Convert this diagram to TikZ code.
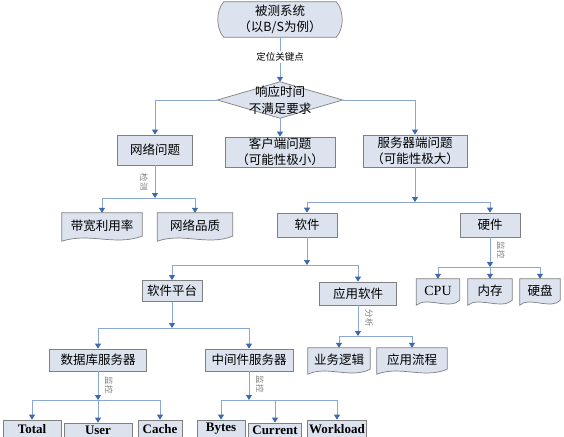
\documentclass[tikz,border=0pt]{standalone}
\usepackage{fontspec}
\setmainfont{Liberation Serif}
\newfontfamily\cjk{Noto Sans CJK SC}
\usetikzlibrary{arrows.meta,calc,backgrounds}
\definecolor{boxfill}{HTML}{DCE3EF}
\definecolor{boxline}{HTML}{808080}
\definecolor{connline}{HTML}{8AA6D2}
\definecolor{tipblue}{HTML}{3C69AF}
\tikzset{
  txt/.style={inner sep=0pt, align=center, font=\cjk\fontsize{12.5}{16.5}\selectfont},
  box/.style={txt, draw=boxline, fill=boxfill, line width=0.7pt},
  latbox/.style={box, font=\rmfamily\bfseries\fontsize{13}{14}\selectfont},
  shapeline/.style={draw=boxline, fill=boxfill, line width=0.7pt},
  conn/.style={draw=connline, line width=0.8pt},
  arr/.style={conn, -{Triangle[length=5pt,width=6pt,color=tipblue]}},
  lab/.style={font=\cjk\fontsize{8.5}{8.5}\selectfont, text=gray, rotate=-90, inner sep=1pt},
}
\newcommand{\docshape}[1]{%
  \path[shapeline] (#1.north west) -- (#1.north east) -- ($(#1.south east)+(0,-2)$)
    .. controls ($(#1.south)+(12,8)$) and ($(#1.south)+(-12,-6)$) .. ($(#1.south west)+(0,3)$) -- cycle;}
\begin{document}
\begin{tikzpicture}[x=1pt,y=-1pt]
\useasboundingbox (0,0) rectangle (564,436);
\clip (0,0) rectangle (564,436);

% nodes
\node[txt, minimum width=112pt, minimum height=35pt] (top) at (280,19.5) {被测系统\\（以B/S为例）};
\node[txt, font=\cjk\fontsize{9.5}{10}\selectfont, fill=white, inner sep=1.5pt] (kp) at (280,57) {定位关键点};
\node[txt, minimum width=125pt, minimum height=36pt] (dia) at (280,100) {响应时间\\不满足要求};

\node[box, minimum width=75pt, minimum height=30pt] (net) at (155,150) {网络问题};
\node[box, minimum width=110pt, minimum height=30pt] (cli) at (280,152) {客户端问题\\（可能性极小）};
\node[box, minimum width=104pt, minimum height=32pt] (srv) at (415,151) {服务器端问题\\（可能性极大）};

\node[txt, minimum width=80pt, minimum height=25pt] (bw) at (102,225.5) {带宽利用率};
\node[txt, minimum width=75pt, minimum height=25pt] (nq) at (195,225.5) {网络品质};

\node[box, minimum width=60pt, minimum height=24pt] (sw) at (307,225) {软件};
\node[box, minimum width=60pt, minimum height=24pt] (hw) at (490,225) {硬件};

\node[txt, minimum width=43pt, minimum height=23pt, font=\rmfamily\fontsize{14}{15}\selectfont] (cpu) at (438,290.5) {CPU};
\node[txt, minimum width=44pt, minimum height=23pt] (mem) at (490,290.5) {内存};
\node[txt, minimum width=40pt, minimum height=23pt] (disk) at (540,290.5) {硬盘};

\node[box, minimum width=60pt, minimum height=21pt] (plat) at (172,291) {软件平台};
\node[box, minimum width=77pt, minimum height=23pt] (app) at (358,293.5) {应用软件};

\node[box, minimum width=97pt, minimum height=22pt] (db) at (98,360) {数据库服务器};
\node[box, minimum width=88pt, minimum height=22pt] (mid) at (249,360) {中间件服务器};

\node[txt, minimum width=62pt, minimum height=23pt] (logic) at (339,359.5) {业务逻辑};
\node[txt, minimum width=70pt, minimum height=23pt] (flow) at (412,359.5) {应用流程};

\node[latbox, minimum width=58pt, minimum height=18pt] (total) at (32,429) {Total};
\node[latbox, minimum width=68pt, minimum height=14pt] (user) at (98,430) {User};
\node[latbox, minimum width=44pt, minimum height=18pt] (cache) at (160,429) {Cache};
\node[latbox, minimum width=48pt, minimum height=18pt] (bytes) at (221,429) {Bytes};
\node[latbox, minimum width=53pt, minimum height=14pt] (current) at (275,430) {Current};
\node[latbox, minimum width=59pt, minimum height=18pt] (workload) at (337,429) {Workload};

% custom shapes behind the text
\begin{scope}[on background layer]
  \fill[white] (0,0) rectangle (564,436);
  \path[shapeline] (top.north west) -- (top.north east)
     .. controls ($(top.north east)+(8,8)$) and ($(top.south east)+(8,-8)$) .. (top.south east)
     -- (top.south west)
     .. controls ($(top.south west)+(-8,-8)$) and ($(top.north west)+(-8,8)$) .. (top.north west) -- cycle;
  \path[shapeline] (dia.north) -- (dia.east) -- (dia.south) -- (dia.west) -- cycle;
  \docshape{bw}\docshape{nq}
  \docshape{cpu}\docshape{mem}\docshape{disk}
  \docshape{logic}\docshape{flow}
\end{scope}

% junctions
\coordinate (jn) at (155,198);
\coordinate (js) at (415,202);
\coordinate (jh) at (490,267);
\coordinate (jsw) at (307,265);
\coordinate (jp) at (172,328);
\coordinate (ja) at (358,336);
\coordinate (jd) at (98,400);
\coordinate (jm) at (249,400);

% connectors
\draw[conn] (top.south) -- (kp.north);
\draw[arr] (kp.south) -- (dia.north);
\draw[arr] (dia.west) -| (net.north);
\draw[arr] (dia.south) -- (cli.north);
\draw[arr] (dia.east) -| (srv.north);

\draw[arr] (net.south) -- (jn);
\draw[arr] (jn) -| (bw.north);
\draw[arr] (jn) -| (nq.north);

\draw[arr] (srv.south) -- (js);
\draw[arr] (js) -| (sw.north);
\draw[arr] (js) -| (hw.north);

\draw[arr] (hw.south) -- (jh);
\draw[arr] (jh) -| (cpu.north);
\draw[arr] (jh) -- (mem.north);
\draw[arr] (jh) -| (disk.north);

\draw[arr] (sw.south) -- (jsw);
\draw[arr] (jsw) -| (plat.north);
\draw[arr] (jsw) -| (app.north);

\draw[arr] (plat.south) -- (jp);
\draw[arr] (jp) -| (db.north);
\draw[arr] (jp) -| (mid.north);

\draw[arr] (app.south) -- (ja);
\draw[arr] (ja) -| (logic.north);
\draw[arr] (ja) -| (flow.north);

\draw[arr] (db.south) -- (jd);
\draw[arr] (jd) -| (total.north);
\draw[arr] (jd) -- (user.north);
\draw[arr] (jd) -| (cache.north);

\draw[arr] (mid.south) -- (jm);
\draw[arr] (jm) -| (bytes.north);
\draw[arr] (jm) -| (current.north);
\draw[arr] (jm) -| (workload.north);

% small rotated labels
\node[lab] (l1) at (144,182) {检测};
\node[lab] (l2) at (501,250) {监控};
\node[lab] (l3) at (369,318) {分析};
\node[lab] (l4) at (109,385) {监控};
\node[lab] (l5) at (260,384) {监控};
\end{tikzpicture}
\end{document}
